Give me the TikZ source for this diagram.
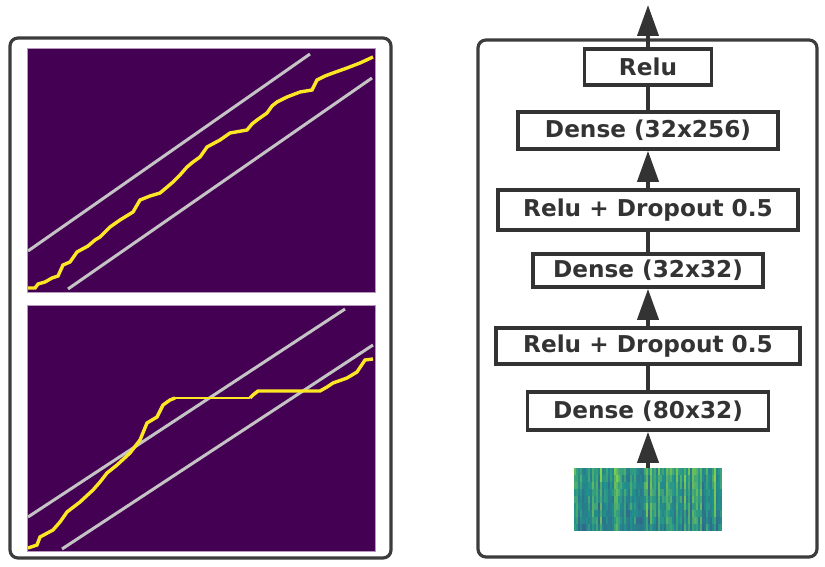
\documentclass[tikz,border=0pt]{standalone}
\usepackage{fontspec}
\setmainfont{DejaVu Sans}
\usetikzlibrary{arrows.meta}
\definecolor{vpurple}{HTML}{440154}
\definecolor{vyellow}{HTML}{FDE725}
\definecolor{vblue}{HTML}{3B528B}
\definecolor{vteal}{HTML}{21918C}
\definecolor{vlight}{HTML}{8FD744}
\definecolor{guide}{HTML}{C4C4C4}
\definecolor{ink}{HTML}{333333}
\definecolor{frame}{HTML}{3C3C3C}
\tikzset{
  panel/.style={draw=frame, line width=3.2pt, rounded corners=8pt},
  plotbg/.style={fill=vpurple, draw=vpurple!40!white, line width=0.8pt},
  guideline/.style={draw=guide, line width=3pt},
  trace/.style={draw=vyellow, line width=3.4pt, line join=miter},
  layer/.style={draw=ink, line width=3.6pt, fill=white, inner sep=0pt, text=ink,
    font=\fontsize{23.2}{27}\selectfont\bfseries},
  conn/.style={draw=ink, line width=4pt},
  arr/.style={conn, -{Triangle[length=31pt,width=21pt]}}
}
\begin{document}
\begin{tikzpicture}[x=1pt,y=-1pt]
\useasboundingbox (0,0) rectangle (825,567);
% ---------- left panel ----------
\draw[panel] (10,38) rectangle (391,558);
% top plot
\draw[plotbg] (27,48) rectangle (375,292);
\draw[guideline] (28,251) -- (310,54);
\draw[guideline] (68,289) -- (372,78);
\draw[trace] (28,288) -- (35,288) -- (38,284) -- (45,282) -- (52,278) -- (58,276) -- (63,265)
  -- (70,262) -- (77,252) -- (88,246) -- (95,240) -- (100,237)
  -- (110,227) -- (120,220) -- (133,212) -- (140,200) -- (150,196) -- (160,193) -- (166,188) -- (173,182)
  -- (180,175) -- (187,167) -- (193,162) -- (200,157) -- (207,147) -- (220,140) -- (230,133) -- (247,130) -- (252,124) -- (257,120)
  -- (267,113) -- (272,106) -- (277,102) -- (287,97) -- (300,92) -- (312,90) -- (317,80) -- (325,76) -- (333,73)
  -- (347,68) -- (360,63) -- (373,57);
% bottom plot
\draw[plotbg] (27,305) rectangle (375,551);
\draw[guideline] (28,517) -- (345,309);
\draw[guideline] (62,549) -- (373,345);
\draw[trace] (28,548) -- (37,545) -- (40,537) -- (53,530) -- (60,522) -- (67,512) -- (80,502) -- (93,490)
  -- (100,482) -- (107,473) -- (117,465) -- (130,453) -- (140,440) -- (147,423) -- (157,417) -- (163,405)
  -- (170,400) -- (175,398);
\draw[vyellow, line width=2pt] (175,398) -- (250,398);
\draw[trace] (250,398) -- (253,395) -- (258,391) -- (320,391) -- (327,387) -- (333,383)
  -- (347,378) -- (357,372) -- (365,360) -- (373,359);
% ---------- right panel ----------
\draw[panel] (478,40) rectangle (817,557);
% spectrogram
\begin{scope}
\pgfmathsetseed{11}
\foreach \k in {0,...,73}{
  \pgfmathsetmacro\b{rnd}
  \foreach \r in {0,...,8}{
    \pgfmathtruncatemacro\v{100*(0.25+0.5*\b+0.25*rnd-0.02*\r)}
    \ifnum\v<50
      \pgfmathtruncatemacro\w{max(0,2*\v)}
      \edef\col{vteal!\w!vblue}
    \else
      \pgfmathtruncatemacro\w{min(100,2*(\v-50))}
      \edef\col{vlight!\w!vteal}
    \fi
    \fill[\col] (574+2*\k,468+7*\r) rectangle ++(2,7);
  }
}
\end{scope}
\node[minimum width=148pt, minimum height=63pt, inner sep=0pt] (spec) at (648,499.5) {};
% layers
\node[layer, minimum width=127pt, minimum height=36pt] (relu) at (648,67) {Relu};
\node[layer, minimum width=260pt, minimum height=37pt] (d256) at (648,130.5) {Dense (32x256)};
\node[layer, minimum width=300pt, minimum height=40pt] (rdo1) at (648,210) {Relu + Dropout 0.5};
\node[layer, minimum width=230pt, minimum height=33pt] (d3232) at (648,270.5) {Dense (32x32)};
\node[layer, minimum width=304pt, minimum height=36pt] (rdo2) at (648,346) {Relu + Dropout 0.5};
\node[layer, minimum width=241pt, minimum height=38pt] (d8032) at (648,411) {Dense (80x32)};
\coordinate (out) at (648,5);
% connectors
\draw[arr] (relu.north) -- (out);
\draw[conn] (d256.north) -- (relu.south);
\draw[arr] (rdo1.north) -- (d256.south);
\draw[conn] (d3232.north) -- (rdo1.south);
\draw[arr] (rdo2.north) -- (d3232.south);
\draw[conn] (d8032.north) -- (rdo2.south);
\draw[arr] (spec.north) -- (d8032.south);
\end{tikzpicture}
\end{document}
